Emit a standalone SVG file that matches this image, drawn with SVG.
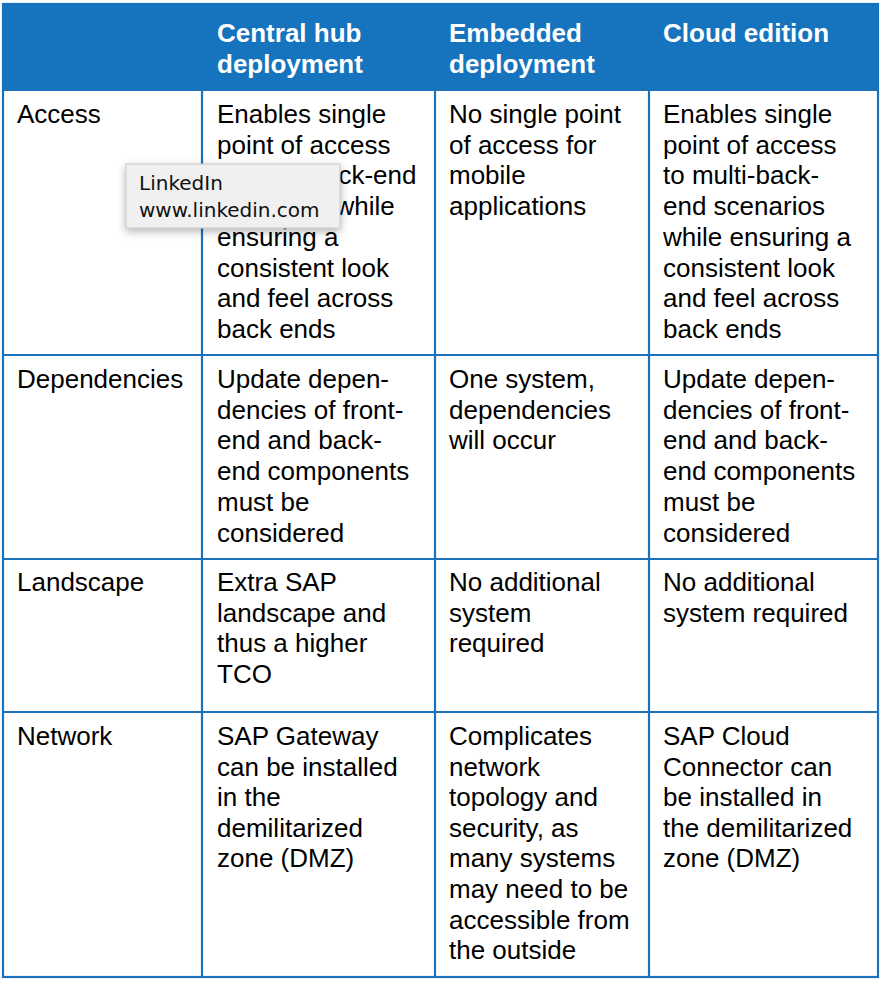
<svg xmlns="http://www.w3.org/2000/svg" width="890" height="990" viewBox="0 0 890 990">
<defs>
<style>
.t{font-family:"Liberation Sans",Arial,sans-serif;font-size:26px;fill:#000}
.h{font-family:"Liberation Sans",Arial,sans-serif;font-size:26px;font-weight:bold;fill:#fff}
.ln{stroke:#1a72bd;stroke-width:2.2;fill:none}
.tip{font-family:"DejaVu Sans",sans-serif;font-size:20px;fill:#111}
</style>
<filter id="sh" x="-20%" y="-30%" width="140%" height="170%">
<feDropShadow dx="0" dy="3" stdDeviation="4" flood-color="#000" flood-opacity="0.3"/>
</filter>
</defs>
<rect x="0" y="0" width="890" height="990" fill="#fff"/>
<g id="header">
<rect x="3" y="4" width="875" height="86" fill="#1673bd"/>
<text class="h" x="217" y="42">Central hub</text>
<text class="h" x="217" y="73">deployment</text>
<text class="h" x="449" y="42">Embedded</text>
<text class="h" x="449" y="73">deployment</text>
<text class="h" x="663" y="42">Cloud edition</text>
</g>
<g id="grid">
<rect class="ln" x="3" y="4" width="875" height="973"/>
<line class="ln" x1="3" y1="90" x2="878" y2="90"/>
<line class="ln" x1="3" y1="355" x2="878" y2="355"/>
<line class="ln" x1="3" y1="559" x2="878" y2="559"/>
<line class="ln" x1="3" y1="712" x2="878" y2="712"/>
<line class="ln" x1="202" y1="90" x2="202" y2="977"/>
<line class="ln" x1="435" y1="90" x2="435" y2="977"/>
<line class="ln" x1="649" y1="90" x2="649" y2="977"/>
</g>
<g id="row-access">
<text class="t" x="17" y="123">Access</text>
<text class="t" x="217" y="123"><tspan x="217">Enables single</tspan><tspan x="217" dy="30.7">point of access</tspan><tspan x="217" dy="30.7">to multi-back-end</tspan><tspan x="217" dy="30.7">scenarios while</tspan><tspan x="217" dy="30.7">ensuring a</tspan><tspan x="217" dy="30.7">consistent look</tspan><tspan x="217" dy="30.7">and feel across</tspan><tspan x="217" dy="30.7">back ends</tspan></text>
<text class="t" x="449" y="123"><tspan x="449">No single point</tspan><tspan x="449" dy="30.7">of access for</tspan><tspan x="449" dy="30.7">mobile</tspan><tspan x="449" dy="30.7">applications</tspan></text>
<text class="t" x="663" y="123"><tspan x="663">Enables single</tspan><tspan x="663" dy="30.7">point of access</tspan><tspan x="663" dy="30.7">to multi-back-</tspan><tspan x="663" dy="30.7">end scenarios</tspan><tspan x="663" dy="30.7">while ensuring a</tspan><tspan x="663" dy="30.7">consistent look</tspan><tspan x="663" dy="30.7">and feel across</tspan><tspan x="663" dy="30.7">back ends</tspan></text>
</g>
<g id="row-dependencies">
<text class="t" x="17" y="388">Dependencies</text>
<text class="t" x="217" y="388"><tspan x="217">Update depen-</tspan><tspan x="217" dy="30.7">dencies of front-</tspan><tspan x="217" dy="30.7">end and back-</tspan><tspan x="217" dy="30.7">end components</tspan><tspan x="217" dy="30.7">must be</tspan><tspan x="217" dy="30.7">considered</tspan></text>
<text class="t" x="449" y="388"><tspan x="449">One system,</tspan><tspan x="449" dy="30.7">dependencies</tspan><tspan x="449" dy="30.7">will occur</tspan></text>
<text class="t" x="663" y="388"><tspan x="663">Update depen-</tspan><tspan x="663" dy="30.7">dencies of front-</tspan><tspan x="663" dy="30.7">end and back-</tspan><tspan x="663" dy="30.7">end components</tspan><tspan x="663" dy="30.7">must be</tspan><tspan x="663" dy="30.7">considered</tspan></text>
</g>
<g id="row-landscape">
<text class="t" x="17" y="591">Landscape</text>
<text class="t" x="217" y="591"><tspan x="217">Extra SAP</tspan><tspan x="217" dy="30.7">landscape and</tspan><tspan x="217" dy="30.7">thus a higher</tspan><tspan x="217" dy="30.7">TCO</tspan></text>
<text class="t" x="449" y="591"><tspan x="449">No additional</tspan><tspan x="449" dy="30.7">system</tspan><tspan x="449" dy="30.7">required</tspan></text>
<text class="t" x="663" y="591"><tspan x="663">No additional</tspan><tspan x="663" dy="30.7">system required</tspan></text>
</g>
<g id="row-network">
<text class="t" x="17" y="745">Network</text>
<text class="t" x="217" y="745"><tspan x="217">SAP Gateway</tspan><tspan x="217" dy="30.6">can be installed</tspan><tspan x="217" dy="30.6">in the</tspan><tspan x="217" dy="30.6">demilitarized</tspan><tspan x="217" dy="30.6">zone (DMZ)</tspan></text>
<text class="t" x="449" y="745"><tspan x="449">Complicates</tspan><tspan x="449" dy="30.6">network</tspan><tspan x="449" dy="30.6">topology and</tspan><tspan x="449" dy="30.6">security, as</tspan><tspan x="449" dy="30.6">many systems</tspan><tspan x="449" dy="30.6">may need to be</tspan><tspan x="449" dy="30.6">accessible from</tspan><tspan x="449" dy="30.6">the outside</tspan></text>
<text class="t" x="663" y="745"><tspan x="663">SAP Cloud</tspan><tspan x="663" dy="30.6">Connector can</tspan><tspan x="663" dy="30.6">be installed in</tspan><tspan x="663" dy="30.6">the demilitarized</tspan><tspan x="663" dy="30.6">zone (DMZ)</tspan></text>
</g>
<g id="tooltip">
<rect x="126" y="164" width="214" height="64" fill="#f0f0f0" stroke="#c6c6c6" stroke-width="1" filter="url(#sh)"/>
<text class="tip" x="139" y="190">LinkedIn</text>
<text class="tip" x="139" y="217">www.linkedin.com</text>
</g>
</svg>
